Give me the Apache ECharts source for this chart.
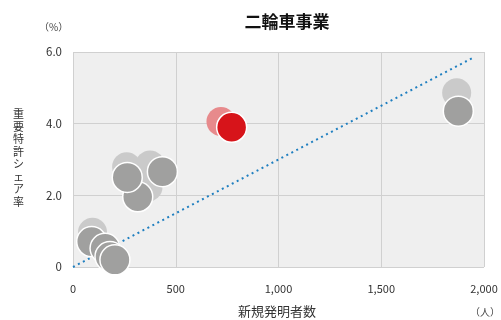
<!DOCTYPE html>
<html>
<head>
<meta charset="utf-8">
<script src="https://cdn.jsdelivr.net/npm/echarts@6/dist/echarts.min.js"></script>
<style>
  html, body { margin: 0; padding: 0; background: #fff; }
  #chart { width: 501px; height: 320px; }
</style>
</head>
<body>
<div id="chart"></div>
<script>
// 二輪車事業: new inventors (x) vs. key-patent share (y)
const chartTitle = '二輪車事業';
const xTicks = [0, 500, 1000, 1500, 2000];
const yTicks = [0, 2, 4, 6];

// previous period (light gray)
const prevX = [95, 261, 375, 365, 1867];
const prevY = [0.97, 2.80, 2.85, 2.23, 4.86];
// current period (dark gray)
const curX = [91, 156, 180, 204, 315, 264, 435, 1875];
const curY = [0.71, 0.52, 0.29, 0.20, 1.96, 2.50, 2.66, 4.35];
// highlighted company (red)
const redPrevX = [720];
const redPrevY = [4.06];
const redCurX = [772];
const redCurY = [3.90];
// reference line through the origin
const refLineX = [0, 1950];
const refLineY = [0, 5.85];

const zip = (xs, ys) => xs.map((x, i) => [x, ys[i]]);
const font = '"Noto Sans CJK JP", "Noto Sans", sans-serif';

const chart = echarts.init(document.getElementById('chart'), null, { renderer: 'canvas' });
chart.setOption({
  animation: false,
  textStyle: { fontFamily: font },
  title: {
    text: chartTitle,
    left: 282, top: 8, textAlign: 'center',
    textStyle: { fontSize: 17, fontWeight: 'bold', color: '#111', fontFamily: font }
  },
  grid: {
    left: 73, right: 17, top: 52, bottom: 53,
    show: true, backgroundColor: '#efefef', borderWidth: 0
  },
  xAxis: {
    type: 'value', min: xTicks[0], max: xTicks[xTicks.length - 1], interval: 500,
    axisLine: { show: false }, axisTick: { show: false },
    splitLine: { show: true, lineStyle: { color: '#d0d0d0', width: 1 } },
    axisLabel: {
      color: '#333', fontSize: 11, margin: 16, fontFamily: font,
      formatter: v => v.toLocaleString('en-US')
    }
  },
  yAxis: {
    type: 'value', min: yTicks[0], max: yTicks[yTicks.length - 1], interval: 2,
    axisLine: { show: false }, axisTick: { show: false },
    splitLine: { show: true, lineStyle: { color: '#d0d0d0', width: 1 } },
    axisLabel: {
      color: '#333', fontSize: 11.5, margin: 11, fontFamily: font,
      formatter: v => v === 0 ? '0' : v.toFixed(1)
    }
  },
  graphic: [
    { type: 'text', left: 39, top: 22,
      style: { text: '（%）', fontSize: 10, fill: '#444', fontFamily: font } },
    { type: 'text', left: 470, top: 307,
      style: { text: '（人）', fontSize: 10, fill: '#444', fontFamily: font } },
    { type: 'text', left: 238, top: 305,
      style: { text: '新規発明者数', fontSize: 13, fill: '#333', fontFamily: font } },
    { type: 'text', left: 13, top: 108,
      style: { text: '重\n要\n特\n許\nシ\nェ\nア\n率', fontSize: 11, lineHeight: 12.5,
               align: 'center', fill: '#333', fontFamily: font } }
  ],
  series: [
    {
      type: 'line', data: zip(refLineX, refLineY), symbol: 'none', z: 1,
      lineStyle: { color: '#1f7fc0', width: 2, type: [2, 3.6] }
    },
    {
      type: 'scatter', data: zip(prevX, prevY), symbolSize: 29, z: 2,
      itemStyle: { color: '#cacaca', opacity: 1 }
    },
    {
      type: 'scatter', data: zip(redPrevX, redPrevY), symbolSize: 29, z: 2,
      itemStyle: { color: '#e78a8c', opacity: 1 }
    },
    {
      type: 'scatter', data: zip(curX, curY), symbolSize: 30, z: 3,
      itemStyle: { color: '#a0a09f', borderColor: '#fff', borderWidth: 1.5, opacity: 1 }
    },
    {
      type: 'scatter', data: zip(redCurX, redCurY), symbolSize: 30, z: 3,
      itemStyle: { color: '#d7141a', borderColor: '#fff', borderWidth: 1.5, opacity: 1 }
    }
  ]
});
</script>
</body>
</html>
